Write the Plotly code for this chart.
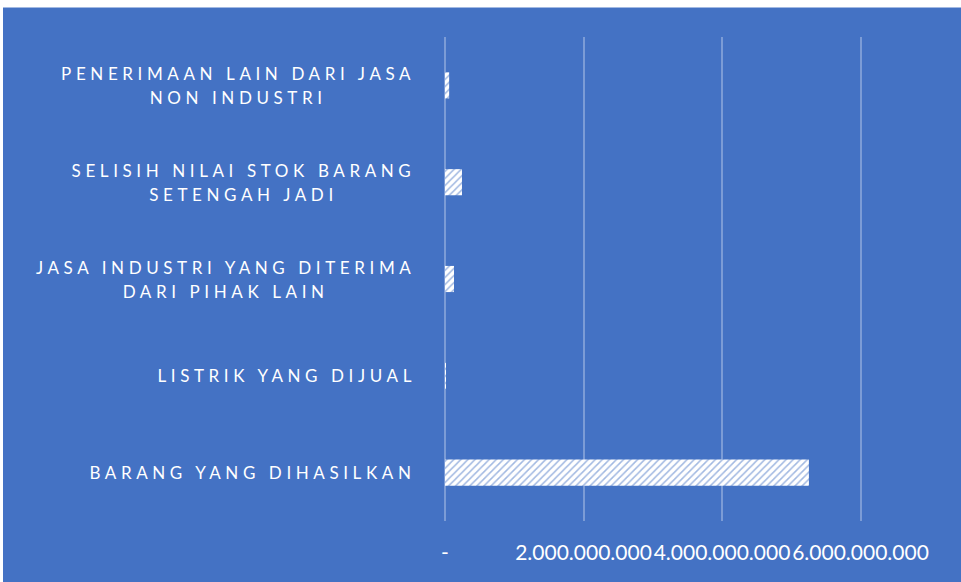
import plotly.graph_objects as go

# Categories (top to bottom as shown)
categories = [
    "PENERIMAAN LAIN DARI JASA<br>NON INDUSTRI",
    "SELISIH NILAI STOK BARANG<br>SETENGAH JADI",
    "JASA INDUSTRI YANG DITERIMA<br>DARI PIHAK LAIN",
    "LISTRIK YANG DIJUAL",
    "BARANG YANG DIHASILKAN",
]
values = [60_000_000, 245_000_000, 130_000_000, 3_000_000, 5_255_000_000]

tick_vals = [0, 2_000_000_000, 4_000_000_000, 6_000_000_000]
tick_text = ["-", "2.000.000.000", "4.000.000.000", "6.000.000.000"]

BLUE = "#4472C4"
W, H = 961, 582
L, R, T, B = 445, 0, 36.5, 60.5
pw = W - L - R
ph = H - T - B

fig = go.Figure()
fig.add_trace(go.Bar(
    y=categories,
    x=values,
    orientation="h",
    width=0.27,
    marker=dict(
        color="white",
        line=dict(width=0),
        pattern=dict(shape="/", bgcolor="white", fgcolor=BLUE, size=5, solidity=0.3),
    ),
    hoverinfo="skip",
))

# category labels as annotations (centered multi-line, right edge at ~413px)
for c in categories:
    fig.add_annotation(
        x=(413 - L) / pw, xref="paper", y=c, yref="y",
        text=c, showarrow=False, xanchor="right", yanchor="middle",
        align="center",
        font=dict(family="Lato", size=17, color="white"),
    )

# white border strips (top and left) around the blue chart area
fig.add_shape(type="rect", xref="paper", yref="paper",
              x0=-L / pw - 0.01, x1=1.01, y0=1 + (T - 7) / ph, y1=1 + T / ph + 0.01,
              fillcolor="white", line=dict(width=0), layer="above")
fig.add_shape(type="rect", xref="paper", yref="paper",
              x0=-L / pw - 0.01, x1=(3 - L) / pw, y0=-B / ph - 0.01, y1=1 + T / ph + 0.01,
              fillcolor="white", line=dict(width=0), layer="above")

fig.update_layout(
    width=W, height=H,
    margin=dict(l=L, r=R, t=T, b=B, pad=0, autoexpand=False),
    paper_bgcolor=BLUE,
    plot_bgcolor=BLUE,
    showlegend=False,
    bargap=0.73,
    xaxis=dict(
        range=[0, (W - L) / 138.5 * 2_000_000_000],
        tickvals=tick_vals, ticktext=tick_text,
        tickangle=0, automargin=False,
        tickfont=dict(family="Lato", size=21, color="white"),
        showgrid=True, gridcolor="rgba(255,255,255,0.3)", gridwidth=1.5,
        zeroline=True, zerolinecolor="rgba(255,255,255,0.3)", zerolinewidth=1.5,
        ticks="outside", ticklen=13, tickcolor="rgba(0,0,0,0)",
        showline=False, fixedrange=True,
    ),
    yaxis=dict(
        categoryorder="array", categoryarray=categories,
        autorange="reversed", automargin=False,
        showticklabels=False, showgrid=False, zeroline=False, showline=False,
        ticks="", fixedrange=True,
    ),
)

post = """
document.body.style.margin = '0';
document.body.style.overflow = 'hidden';
var gd = document.getElementById('{plot_id}');
function fixLS(){
  var LS = 4.6;
  gd.querySelectorAll('.annotation-text').forEach(function(t){
    if (t.getAttribute('data-ls')) return;
    var lines = t.querySelectorAll('tspan.line');
    var extra = 0;
    for (var i = 1; i < lines.length; i++) {
      lines[i].setAttribute('dy', '1.45em');
      extra += 0.15 * 17;
    }
    var b0 = t.getBBox();
    var r0 = b0.x + b0.width;
    t.style.letterSpacing = LS + 'px';
    var b1 = t.getBBox();
    var r1 = b1.x + b1.width - LS;
    var tr = t.getAttribute('transform') || '';
    t.setAttribute('transform', tr + ' translate(' + (r0 - r1) + ',' + (-extra / 2) + ')');
    t.setAttribute('data-ls', '1');
  });
}
fixLS();
gd.on('plotly_afterplot', function(){ fixLS(); });
"""

fig.write_html("out.html", config={"displayModeBar": False}, post_script=post)
